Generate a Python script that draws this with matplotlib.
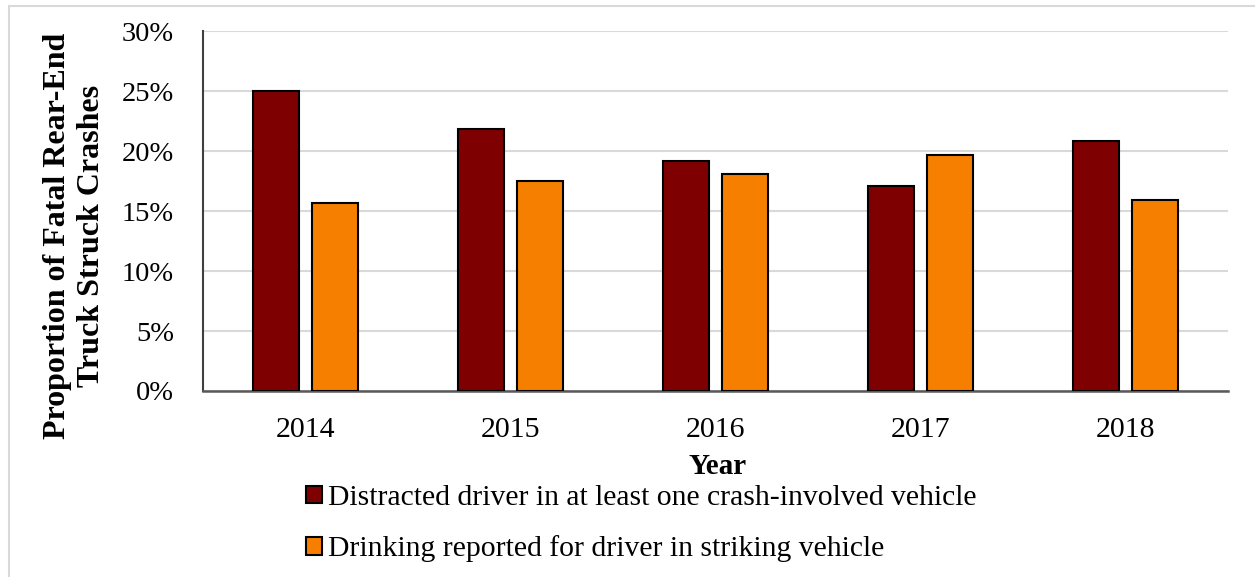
import matplotlib
matplotlib.use("Agg")
import matplotlib.pyplot as plt
from matplotlib.patches import Rectangle
import numpy as np

years = ["2014", "2015", "2016", "2017", "2018"]
distracted = [25.0, 21.8, 19.2, 17.1, 20.8]
drinking = [15.7, 17.5, 18.1, 19.7, 15.9]
series_labels = ["Distracted driver in at least one crash-involved vehicle",
                 "Drinking reported for driver in striking vehicle"]
yticks = [0, 5, 10, 15, 20, 25, 30]

plt.rcParams['font.family'] = ['Liberation Serif', 'DejaVu Serif']

fig = plt.figure(figsize=(12.55, 5.77), dpi=100)
ax = fig.add_axes([203/1255, 1 - 391/577, (1228-203)/1255, (391-31)/577])

x = np.arange(len(years))
w = 0.229
off = 0.288 / 2
ax.bar(x - off, distracted, w, color="#7f0000", edgecolor="black", linewidth=1.5, zorder=3,
       label=series_labels[0])
ax.bar(x + off, drinking, w, color="#f77f00", edgecolor="black", linewidth=1.5, zorder=3,
       label=series_labels[1])

ax.set_xlim(-0.5, len(years) - 0.5)
ax.set_ylim(0, 30)
ax.set_yticks(yticks)
ax.set_yticklabels([f"{v}%" for v in yticks], fontsize=20.5)
ax.set_xticks(x)
ax.set_xticklabels(years, fontsize=21.5)
ax.tick_params(axis='y', length=0, pad=21)
ax.tick_params(axis='x', length=0, pad=19)
ax.yaxis.grid(True, color="#d9d9d9", linewidth=1.5, zorder=0)
ax.set_axisbelow(True)
for s in ["top", "right"]:
    ax.spines[s].set_visible(False)
ax.spines["left"].set_color("#404040")
ax.spines["left"].set_linewidth(1.5)
ax.spines["bottom"].set_color("#595959")
ax.spines["bottom"].set_linewidth(1.8)

fig.text(74.5/1255, 1 - 236/577, "Proportion of Fatal Rear-End\nTruck Struck Crashes",
         fontsize=23, fontweight="bold", rotation=90, ha="center", va="center",
         multialignment="center", linespacing=1.2)
fig.text(718/1255, 1 - 467/577, "Year", fontsize=21, fontweight="bold", ha="center", va="center")

fig.legend(loc="upper left", bbox_to_anchor=(306/1255, 1 - 485/577), frameon=False,
           fontsize=21.3, handlelength=0.55, handleheight=0.55, handletextpad=0.2,
           labelspacing=0.82, borderaxespad=0, borderpad=0)

fig.patches.append(Rectangle((9/1255, -0.1), 1.2, 1 - 6/577 + 0.1, transform=fig.transFigure,
                             fill=False, edgecolor="#d9d9d9", linewidth=1.5, zorder=0))

fig.savefig("out.png", dpi=100)
